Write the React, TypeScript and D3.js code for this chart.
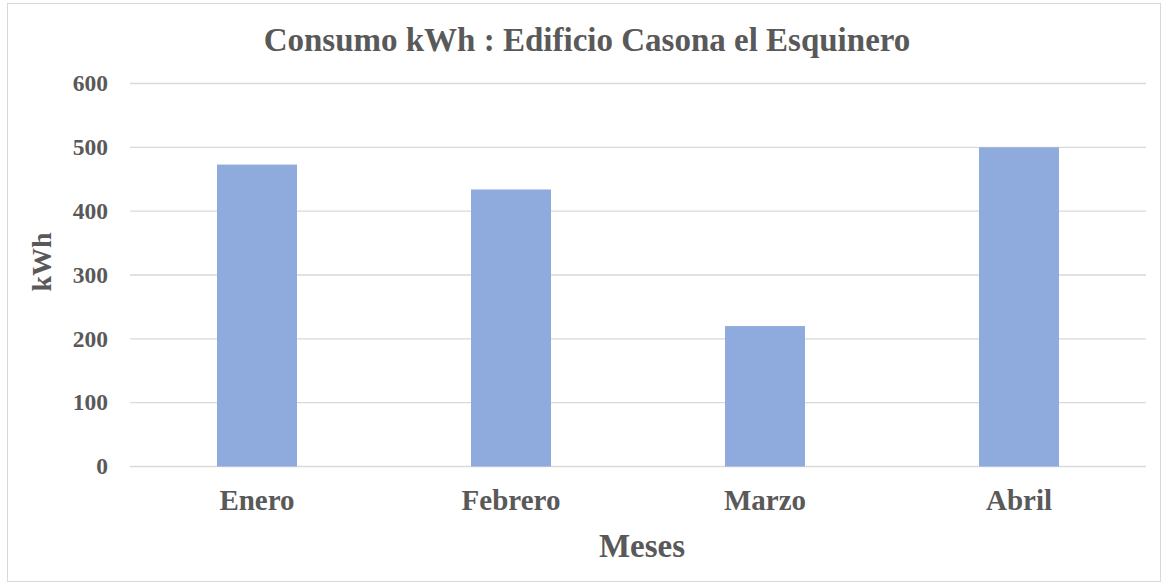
import React, { useEffect, useRef } from "react";
import * as d3 from "d3";

const months = ["Enero", "Febrero", "Marzo", "Abril"];
const kwh = [473, 434, 220, 500];
const yTicks = [0, 100, 200, 300, 400, 500, 600];

function App() {
  const svgRef = useRef<SVGSVGElement>(null);

  useEffect(() => {
    const w = 1167;
    const h = 585;
    const m = { top: 83.5, right: 21, bottom: 118.5, left: 130 };
    const font = "'Liberation Serif', 'Times New Roman', serif";
    const grey = "#595959";

    const svg = d3.select(svgRef.current).attr("width", w).attr("height", h);
    svg.selectAll("*").remove();

    svg
      .append("rect")
      .attr("x", 7.5)
      .attr("y", 3.5)
      .attr("width", 1153)
      .attr("height", 578)
      .attr("fill", "#fff")
      .attr("stroke", "#d9d9d9");

    const x = d3
      .scaleBand()
      .domain(months)
      .range([m.left, w - m.right])
      .paddingInner(0.685)
      .paddingOuter(0.3425);
    const y = d3.scaleLinear().domain([0, 600]).range([h - m.bottom, m.top]);

    // gridlines
    svg
      .append("g")
      .selectAll("line")
      .data(yTicks)
      .join("line")
      .attr("x1", m.left)
      .attr("x2", w - m.right)
      .attr("y1", (d) => y(d))
      .attr("y2", (d) => y(d))
      .attr("stroke", "#d9d9d9")
      .attr("stroke-width", 1.3);

    // tick labels
    svg
      .append("g")
      .selectAll("text")
      .data(yTicks)
      .join("text")
      .attr("x", 108)
      .attr("y", (d) => y(d))
      .attr("dy", "0.33em")
      .attr("text-anchor", "end")
      .attr("font-family", font)
      .attr("font-weight", "bold")
      .attr("font-size", 23.5)
      .attr("fill", grey)
      .text((d) => d);

    // bars
    svg
      .append("g")
      .selectAll("rect")
      .data(kwh)
      .join("rect")
      .attr("x", (d, i) => x(months[i]) as number)
      .attr("width", x.bandwidth())
      .attr("y", (d) => y(d))
      .attr("height", (d) => y(0) - y(d))
      .attr("fill", "#8faadc");

    svg
      .append("g")
      .selectAll("text")
      .data(months)
      .join("text")
      .attr("x", (d) => (x(d) as number) + x.bandwidth() / 2)
      .attr("y", 510)
      .attr("text-anchor", "middle")
      .attr("font-family", font)
      .attr("font-weight", "bold")
      .attr("font-size", 29)
      .attr("fill", grey)
      .text((d) => d);

    svg
      .append("text")
      .attr("x", 587)
      .attr("y", 51)
      .attr("text-anchor", "middle")
      .attr("font-family", font)
      .attr("font-weight", "bold")
      .attr("font-size", 33)
      .attr("fill", grey)
      .text("Consumo kWh : Edificio Casona el Esquinero");

    svg
      .append("text")
      .attr("x", 642)
      .attr("y", 557)
      .attr("text-anchor", "middle")
      .attr("font-family", font)
      .attr("font-weight", "bold")
      .attr("font-size", 33)
      .attr("fill", grey)
      .text("Meses");

    svg
      .append("text")
      .attr("transform", "translate(51,262) rotate(-90)")
      .attr("text-anchor", "middle")
      .attr("font-family", font)
      .attr("font-weight", "bold")
      .attr("font-size", 28)
      .attr("fill", grey)
      .text("kWh");
  }, []);

  return (
    <svg
      ref={svgRef}
      style={{ position: "absolute", left: 0, top: 0, display: "block" }}
    ></svg>
  );
}

export default App;
